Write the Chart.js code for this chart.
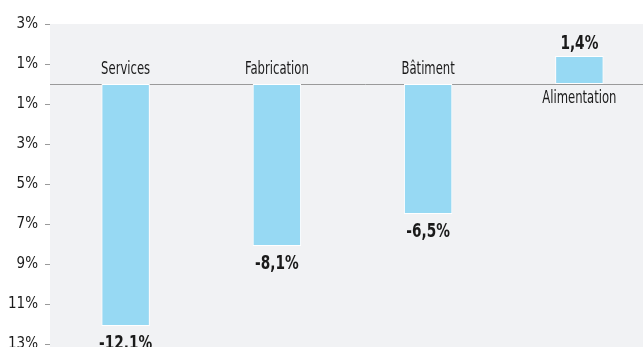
<!DOCTYPE html>
<html><head><meta charset="utf-8">
<script src="https://cdn.jsdelivr.net/npm/chart.js@4"></script>
<style>
html,body{margin:0;padding:0;background:#fff;overflow:hidden;width:643px;height:347px;}
#wrap{position:absolute;left:0;top:0;width:680px;height:365px;}
</style></head>
<body><div id="wrap"><canvas id="c" width="680" height="365"></canvas></div>
<script>
const categories = ["Services", "Fabrication", "Bâtiment", "Alimentation"];
const values = [-12.1, -8.1, -6.5, 1.4];
const valueLabels = ["-12,1%", "-8,1%", "-6,5%", "1,4%"];
const tickValues = [3, 1, -1, -3, -5, -7, -9, -11, -13];

const FONT = '"Liberation Sans Narrow", "DejaVu Sans Condensed", "Open Sans", sans-serif';

function narrowText(ctx, text, x, y, sx) {
  ctx.save();
  ctx.translate(x, y);
  ctx.scale(sx, 1);
  ctx.fillText(text, 0, 0);
  ctx.restore();
}

const bgPlugin = {
  id: 'bg',
  beforeDraw(chart) {
    const {ctx, chartArea: a} = chart;
    ctx.save();
    ctx.fillStyle = '#f1f2f4';
    ctx.fillRect(a.left, a.top, a.right - a.left, a.bottom - a.top + 30);
    ctx.restore();
  },
  beforeDatasetsDraw(chart) {
    const {ctx, chartArea: a, scales: {y}} = chart;
    const y0 = Math.round(y.getPixelForValue(0)) + 0.5;
    ctx.save();
    ctx.strokeStyle = '#9a9a9a';
    ctx.lineWidth = 1;
    ctx.beginPath();
    ctx.moveTo(a.left, y0);
    ctx.lineTo(a.right + 40, y0);
    ctx.stroke();
    ctx.restore();
  },
  afterDatasetsDraw(chart) {
    const {ctx, scales: {x, y}} = chart;
    const y0 = y.getPixelForValue(0);
    ctx.save();
    ctx.textAlign = 'center';
    ctx.fillStyle = '#1a1a1a';
    categories.forEach((c, i) => {
      const px = x.getPixelForValue(i);
      const v = values[i];
      const pv = y.getPixelForValue(v);
      ctx.font = '17px ' + FONT;
      if (v < 0) {
        ctx.textBaseline = 'alphabetic';
        narrowText(ctx, c, px, y0 - 10, 0.76);
        ctx.font = 'bold 19px ' + FONT;
        ctx.textBaseline = 'top';
        narrowText(ctx, valueLabels[i], px, pv + 9, 0.8);
      } else {
        ctx.textBaseline = 'top';
        narrowText(ctx, c, px, y0 + 6, 0.76);
        ctx.font = 'bold 19px ' + FONT;
        ctx.textBaseline = 'bottom';
        narrowText(ctx, valueLabels[i], px, pv - 2, 0.8);
      }
    });
    ctx.restore();
  }
};

new Chart(document.getElementById('c'), {
  type: 'bar',
  data: {
    labels: categories,
    datasets: [{
      data: values,
      backgroundColor: '#97d9f3',
      borderColor: '#ffffff',
      borderWidth: 1,
      borderSkipped: false,
      barPercentage: 0.32,
      categoryPercentage: 1.0
    }]
  },
  options: {
    responsive: false,
    animation: false,
    layout: {padding: {top: 24, right: 25, bottom: 21, left: 0}},
    plugins: {legend: {display: false}, tooltip: {enabled: false}},
    scales: {
      x: {display: false},
      y: {
        min: -13, max: 3,
        afterFit(s) { s.width = 50; },
        afterBuildTicks(s) { s.ticks = tickValues.map(v => ({value: v})); },
        grid: {drawOnChartArea: false, drawTicks: true, tickLength: 5, tickColor: '#9a9a9a', color: '#9a9a9a'},
        border: {display: false},
        ticks: {
          padding: 7,
          color: '#1a1a1a',
          font: {family: FONT, size: 15},
          callback: v => Math.abs(v) + '%'
        }
      }
    }
  },
  plugins: [bgPlugin]
});
</script>
</body></html>
